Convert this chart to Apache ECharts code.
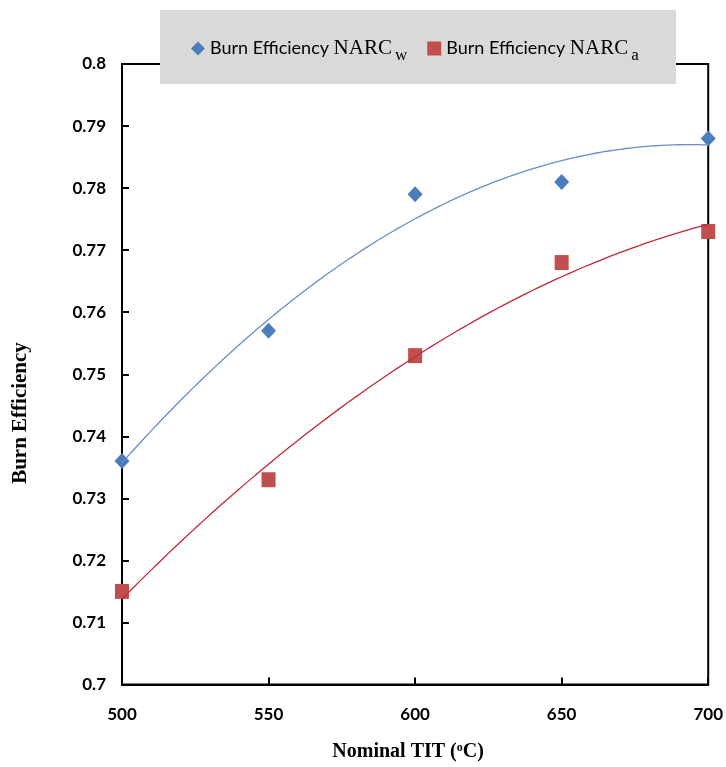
<!DOCTYPE html>
<html><head><meta charset="utf-8">
<script src="https://cdn.jsdelivr.net/npm/echarts@6/dist/echarts.min.js"></script>
<style>html,body{margin:0;padding:0;background:#fff}#c{width:726px;height:767px}</style>
</head><body><div id="c"></div>
<script>
const temps = [500, 550, 600, 650, 700];
const effW = [0.736, 0.757, 0.779, 0.781, 0.788];
const effA = [0.715, 0.733, 0.753, 0.768, 0.773];
const yTicks = [0.7, 0.71, 0.72, 0.73, 0.74, 0.75, 0.76, 0.77, 0.78, 0.79, 0.8];
const xTicks = [500, 550, 600, 650, 700];
const nameW = 'Burn Efficiency NARC_w';
const nameA = 'Burn Efficiency NARC_a';
const yTitle = 'Burn Efficiency';

// 2nd-order polynomial least-squares trendline (as Excel does)
function polyFit(xs, ys) {
  const n = xs.length;
  let s = [0,0,0,0,0], t = [0,0,0];
  for (let i = 0; i < n; i++) {
    const x = xs[i], y = ys[i];
    for (let k = 0; k < 5; k++) s[k] += Math.pow(x, k);
    for (let k = 0; k < 3; k++) t[k] += Math.pow(x, k) * y;
  }
  const A = [[s[0],s[1],s[2],t[0]],[s[1],s[2],s[3],t[1]],[s[2],s[3],s[4],t[2]]];
  for (let i = 0; i < 3; i++) {
    for (let j = i + 1; j < 3; j++) {
      const f = A[j][i] / A[i][i];
      for (let k = i; k < 4; k++) A[j][k] -= f * A[i][k];
    }
  }
  const c = [0,0,0];
  for (let i = 2; i >= 0; i--) {
    let v = A[i][3];
    for (let k = i + 1; k < 3; k++) v -= A[i][k] * c[k];
    c[i] = v / A[i][i];
  }
  return c;
}
function trend(xs, ys) {
  const m = 600;
  const c = polyFit(xs.map(v => v - m), ys);
  const out = [];
  for (let x = xs[0]; x <= xs[xs.length - 1]; x += 2) {
    const u = x - m;
    out.push([x, c[0] + c[1] * u + c[2] * u * u]);
  }
  return out;
}

const chart = echarts.init(document.getElementById('c'));
const legendRich = {
  a: {fontFamily: 'Lato', fontSize: 18, color: '#000', fontWeight: 'normal'},
  b: {fontFamily: 'Liberation Serif', fontSize: 21, color: '#000'},
  c: {fontFamily: 'Liberation Serif', fontSize: 17, color: '#000', padding: [14, 0, 0, 3]}
};
chart.setOption({
  animation: false,
  backgroundColor: '#fff',
  grid: {left: 122, right: 17, top: 64, bottom: 81, show: true, borderColor: '#000', borderWidth: 2},
  graphic: [{
    type: 'rect', z: 3, shape: {x: 160, y: 10, width: 516, height: 74},
    style: {fill: '#d9d9d9'}
  }, {
    type: 'text', z: 3, x: 21, y: 413, rotation: Math.PI / 2,
    style: {text: yTitle, textAlign: 'center', textVerticalAlign: 'middle',
      font: 'bold 21px "Liberation Serif"', fill: '#000'}
  }],
  legend: {
    z: 5, left: 186, top: 33, itemGap: 20, itemWidth: 14, itemHeight: 14,
    data: [
      {name: nameW, icon: 'diamond', itemStyle: {color: '#4a7ebb'}},
      {name: nameA, icon: 'rect', itemStyle: {color: '#c0504d'}}
    ],
    formatter: function (n) {
      return '{a|Burn Efficiency }{b|NARC}{c|' + (n === nameW ? 'w' : 'a') + '}';
    },
    textStyle: {rich: legendRich}
  },
  xAxis: {
    type: 'value', min: 500, max: 700, interval: 50,
    axisLine: {show: true, lineStyle: {color: '#000', width: 2}},
    axisTick: {show: true, inside: true, length: 7, lineStyle: {color: '#000', width: 2}},
    splitLine: {show: false},
    axisLabel: {margin: 22, color: '#000', fontFamily: 'Lato', fontWeight: 'bold', fontSize: 17,
      formatter: v => xTicks.includes(v) ? String(v) : ''},
    name: '{n|Nominal TIT (}{s|o}{n|C)}',
    nameLocation: 'middle', nameGap: 57,
    nameTextStyle: {padding: [0, 14, 0, 0], rich: {
      n: {fontFamily: 'Liberation Serif', fontWeight: 'bold', fontSize: 20, color: '#000'},
      s: {fontFamily: 'Liberation Serif', fontWeight: 'bold', fontSize: 12, color: '#000', padding: [0, 0, 9, 0]}
    }}
  },
  yAxis: {
    type: 'value', min: 0.7, max: 0.8, interval: 0.01,
    axisLine: {show: true, lineStyle: {color: '#000', width: 2}},
    axisTick: {show: true, inside: true, length: 7, lineStyle: {color: '#000', width: 2}},
    splitLine: {show: false},
    axisLabel: {margin: 16, color: '#000', fontFamily: 'Lato', fontWeight: 'bold', fontSize: 17,
      formatter: v => { const t = yTicks.find(k => Math.abs(k - v) < 1e-9); return t === undefined ? '' : String(t); }}
  },
  series: [
    {name: nameW, type: 'scatter', symbol: 'diamond', symbolSize: [15, 16], z: 3,
      itemStyle: {color: '#4a7ebb', opacity: 1}, data: temps.map((t, i) => [t, effW[i]])},
    {name: nameA, type: 'scatter', symbol: 'rect', symbolSize: [14, 15], z: 3,
      itemStyle: {color: '#c0504d', opacity: 1}, data: temps.map((t, i) => [t, effA[i]])},
    {name: 'trendW', type: 'line', showSymbol: false, smooth: false, z: 4,
      lineStyle: {color: '#6b8fc4', width: 1.3}, data: trend(temps, effW)},
    {name: 'trendA', type: 'line', showSymbol: false, smooth: false, z: 4,
      lineStyle: {color: '#c0283a', width: 1.3}, data: trend(temps, effA)}
  ]
});
</script></body></html>
